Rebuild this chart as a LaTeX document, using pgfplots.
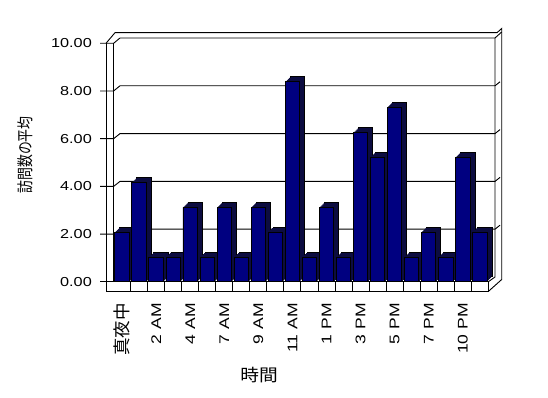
\documentclass[border=0pt]{standalone}
\usepackage{fontspec}
\setmainfont{Liberation Sans}
\newfontfamily\cjk{Noto Sans CJK JP}
\newfontfamily\cjkcond[FakeStretch=0.78]{Noto Sans CJK JP}
\newfontfamily\cjkwide[FakeStretch=1.1]{Noto Sans CJK JP}
\newfontfamily\latw[FakeStretch=1.25]{Liberation Sans}
\usepackage{pgfplots}
\usepackage{pgfplotstable}
\pgfplotsset{compat=1.18}
\definecolor{barnavy}{RGB}{0,0,128}
\definecolor{bardark}{RGB}{12,12,64}

\pgfplotstableread{
x y
0 2.08
1 4.17
2 1.03
3 1.03
4 3.12
5 1.03
6 3.12
7 1.03
8 3.12
9 2.08
10 8.38
11 1.03
12 3.12
13 1.03
14 6.25
15 5.23
16 7.32
17 1.03
18 2.08
19 1.03
20 5.23
21 2.08
}\visits

\begin{document}
\begin{tikzpicture}
\path[use as bounding box] (0,0) rectangle (548bp,398bp);
% 3D frame (walls, floor, gridlines) in image pixel coordinates
\begin{scope}[x=1bp, y=-1bp, shift={(0bp,398bp)}, line width=0.9bp]
  \foreach \v in {2,4,6,8} {
    \pgfmathsetmacro\yb{277-23.9*\v}
    \pgfmathsetmacro\yf{281.8-23.85*\v}
    \draw (100,\yf) -- (113.6,\yf) -- (120,\yb) -- (495,\yb) -- (500,{\yb-4});
  }
  % top edges
  \draw (100,43.3) -- (113.6,43.3) -- (120,38) -- (495,38) -- (501.7,32);
  \draw (106,43.3) -- (115,32.7) -- (497,32.7) -- (501.7,28.5) -- (501.7,279.5) -- (488.3,291.5);
  % left wall
  \draw (106,43.3) -- (106,291.5);
  \draw (113.6,43.3) -- (113.6,281.8);
  \draw (100,281.8) -- (106,281.8);
  % back wall right edge and floor top-right
  \draw (495,38) -- (495,277) -- (488.3,281.8);
  % floor strip
  \draw (106,281.8) rectangle (488.3,291.5);
  \foreach \k in {1,...,21} {
    \draw ({113.6+17.03*\k},281.8) -- ({113.6+17.03*\k},291.5);
  }
  % axis titles
  \node[rotate=90, inner sep=0pt, font=\cjkcond\fontsize{16.5bp}{17bp}\selectfont] at (25.5,155) {訪問数の平均};
  \node[inner sep=0pt, font=\cjkwide\fontsize{17bp}{18bp}\selectfont] at (259,375.5) {時間};
\end{scope}
\begin{axis}[
  at={(113.6bp,116.2bp)}, anchor=south west,
  scale only axis, width=374.7bp, height=238.5bp,
  xmin=-0.5, xmax=21.5, ymin=0, ymax=10,
  clip=false,
  axis line style={draw=none},
  major tick length=0pt,
  xtick={0,2,...,20},
  xticklabels={{\cjk\fontsize{17.5bp}{18bp}\selectfont 真夜中},2 AM,4 AM,7 AM,9 AM,11 AM,1 PM,3 PM,5 PM,7 PM,10 PM},
  ytick={0,2,4,6,8,10},
  yticklabels={0.00,2.00,4.00,6.00,8.00,10.00},
  xticklabel style={rotate=90, anchor=east, inner sep=0pt, font=\latw\fontsize{14bp}{15bp}\selectfont},
  yticklabel style={anchor=east, inner sep=0pt, font=\latw\fontsize{13bp}{14bp}\selectfont},
  xticklabel shift=21.2bp,
  yticklabel shift=21.6bp,
]
\addplot[ybar, bar width=14.5bp, fill=bardark, draw=black, line width=0.9bp, xshift=5bp, yshift=5bp] table {\visits};
\addplot[ybar, bar width=14.5bp, fill=bardark, draw=none, xshift=4bp, yshift=4bp] table {\visits};
\addplot[ybar, bar width=14.5bp, fill=bardark, draw=none, xshift=3bp, yshift=3bp] table {\visits};
\addplot[ybar, bar width=14.5bp, fill=bardark, draw=none, xshift=2bp, yshift=2bp] table {\visits};
\addplot[ybar, bar width=14.5bp, fill=bardark, draw=none, xshift=1bp, yshift=1bp] table {\visits};
\addplot[ybar, bar width=14.5bp, fill=barnavy, draw=black, line width=0.9bp] table {\visits};
\end{axis}
\end{tikzpicture}
\end{document}
